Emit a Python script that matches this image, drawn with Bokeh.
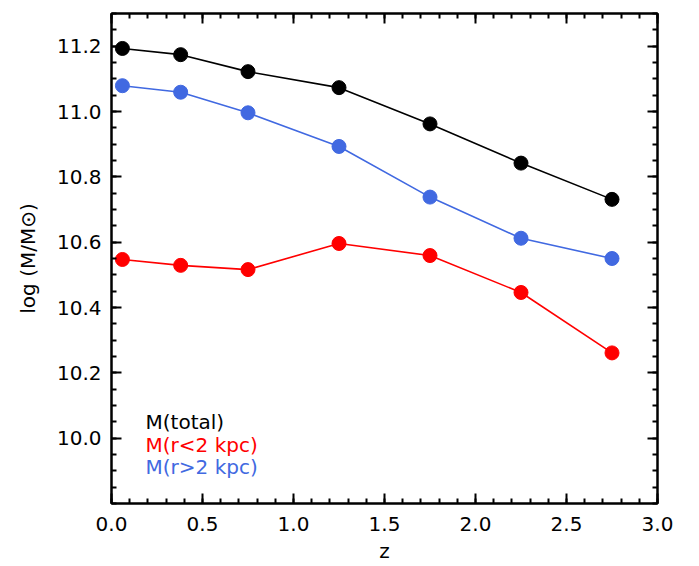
from bokeh.plotting import figure
from bokeh.models import (LinearAxis, Range1d, FixedTicker, ColumnDataSource,
                          PrintfTickFormatter, CustomLabelingPolicy)
from bokeh.core.properties import value
from bokeh.embed import file_html
from bokeh.resources import INLINE

# Redshift bins and stellar masses (log M/Msun)
z = [0.06, 0.38, 0.75, 1.25, 1.75, 2.25, 2.75]
m_total = [11.193, 11.174, 11.122, 11.073, 10.962, 10.842, 10.731]
m_inner = [10.547, 10.529, 10.516, 10.596, 10.559, 10.446, 10.261]
m_outer = [11.079, 11.059, 10.996, 10.893, 10.738, 10.612, 10.550]

labels = ["M(total)", "M(r<2 kpc)", "M(r>2 kpc)"]
colors = ["black", "#ff0000", "#4169e1"]
label_x = 0.187
label_y = [10.051, 9.979, 9.912]

# Tick positions
x_major = [0.0, 0.5, 1.0, 1.5, 2.0, 2.5, 3.0]
x_minor = [round(0.1 * i, 2) for i in range(31)]
y_major = [10.0, 10.2, 10.4, 10.6, 10.8, 11.0, 11.2]
y_minor = [round(9.8 + 0.05 * i, 2) for i in range(31)]

FONT = "DejaVu Sans"
FS = "20px"

p = figure(width=699, height=566, output_backend="svg", toolbar_location=None,
           x_range=Range1d(0, 3.0), y_range=Range1d(9.8, 11.3),
           min_border_left=111, min_border_right=42, min_border_top=13,
           min_border_bottom=63, x_axis_label="z", y_axis_label="log (M/M\u2299)")
p.background_fill_color = "white"
p.border_fill_color = "white"
p.grid.visible = False
p.outline_line_color = "black"
p.outline_line_width = 2

def style_axis(ax, major, minor, labels_on=True):
    ax.ticker = FixedTicker(ticks=major, minor_ticks=minor)
    ax.formatter = PrintfTickFormatter(format="%.1f")
    ax.axis_line_width = 2
    ax.axis_line_color = "black"
    ax.major_tick_in = 10
    ax.major_tick_out = 0
    ax.minor_tick_in = 5
    ax.minor_tick_out = 0
    ax.major_tick_line_width = 2
    ax.minor_tick_line_width = 2
    ax.major_label_text_font = FONT
    ax.major_label_text_font_size = FS
    ax.major_label_text_color = "black"
    ax.axis_label_text_font = FONT
    ax.axis_label_text_font_size = FS
    ax.axis_label_text_font_style = "normal"
    ax.axis_label_text_color = "black"
    if not labels_on:
        # mirror axis: ticks only, no labels and no room reserved for them
        ax.major_label_text_font_size = "0px"
        ax.major_label_standoff = 0
        ax.major_label_policy = CustomLabelingPolicy(code="return new Set()")

style_axis(p.xaxis[0], x_major, x_minor)
style_axis(p.yaxis[0], y_major, y_minor)
p.xaxis[0].major_label_standoff = 13
p.xaxis[0].axis_label_standoff = 5
p.yaxis[0].major_label_standoff = 10
p.yaxis[0].axis_label_standoff = 14

top = LinearAxis()
style_axis(top, x_major, x_minor, labels_on=False)
p.add_layout(top, "above")
right = LinearAxis()
style_axis(right, y_major, y_minor, labels_on=False)
p.add_layout(right, "right")

for ys, c in zip([m_total, m_inner, m_outer], colors):
    src = ColumnDataSource(dict(x=z, y=ys))
    p.line("x", "y", source=src, line_color=c, line_width=1.6)
    p.scatter("x", "y", source=src, size=14, fill_color=c, line_color=c)

p.text(x=[label_x] * 3, y=label_y, text=labels, text_color=colors,
       text_font=value(FONT), text_font_size=FS, text_baseline="middle",
       text_align="left")

open("out.html", "w").write(file_html(p, INLINE))
